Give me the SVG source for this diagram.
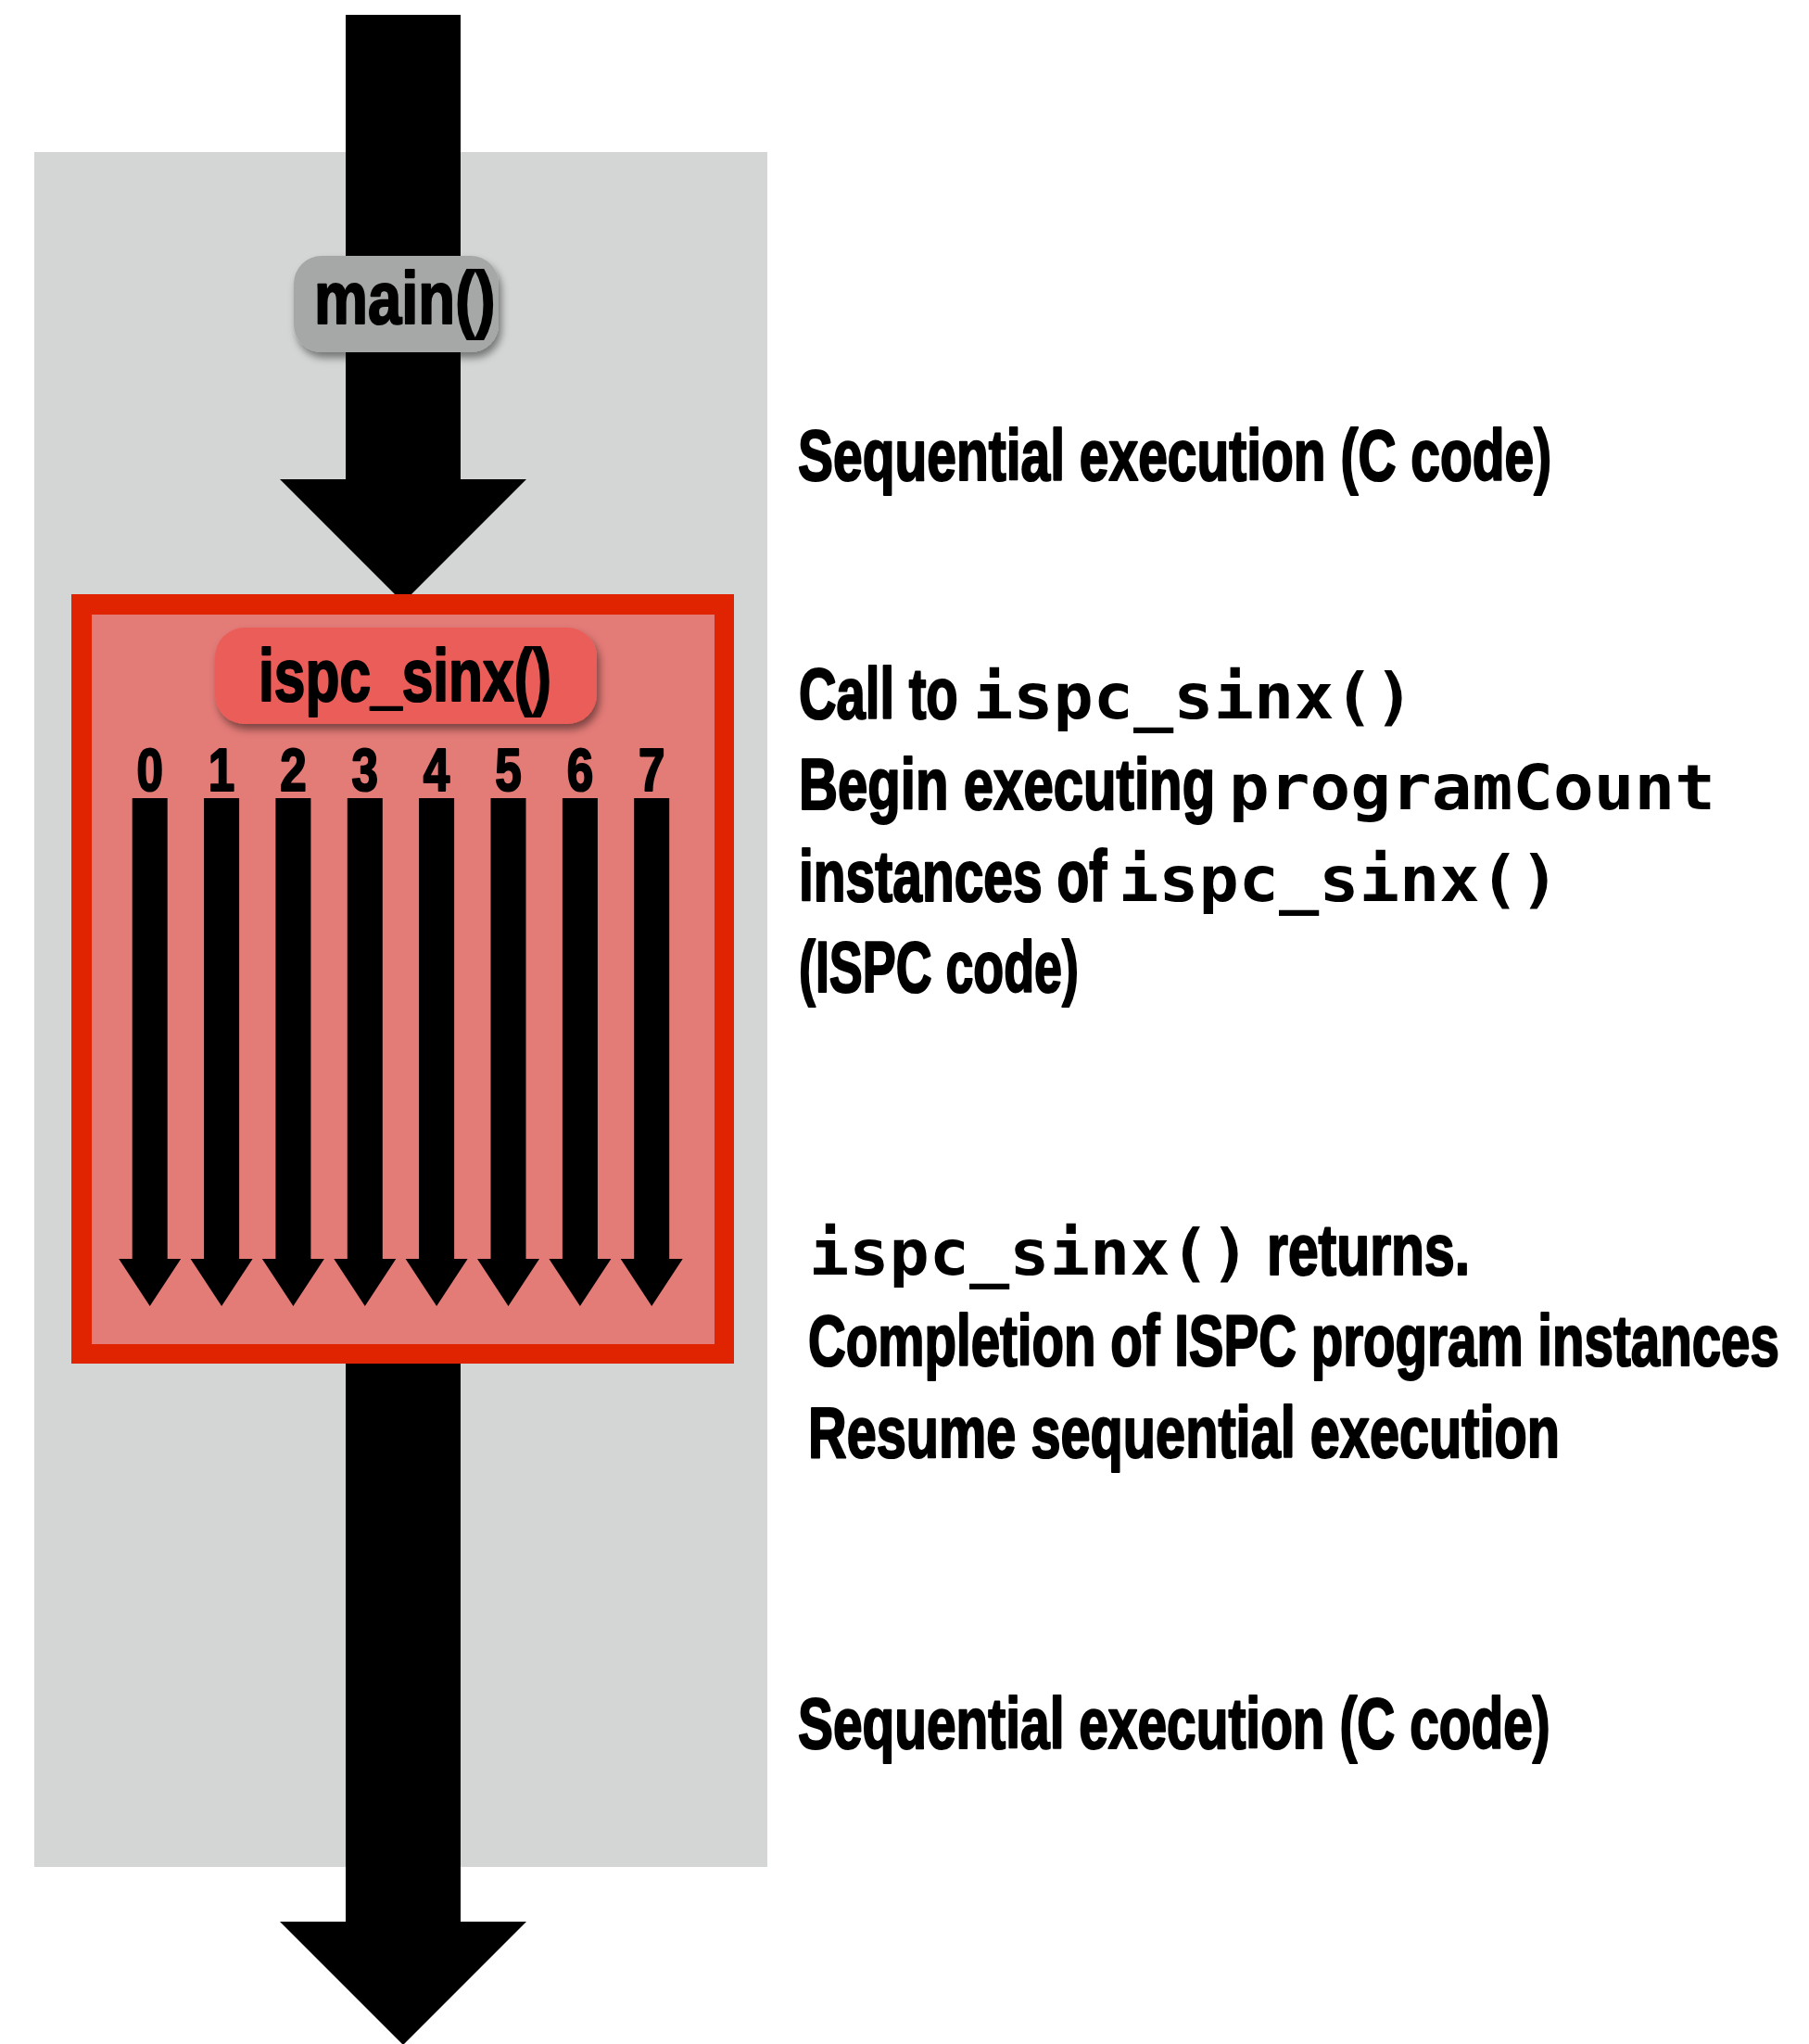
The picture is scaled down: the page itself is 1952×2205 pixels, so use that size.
<svg xmlns="http://www.w3.org/2000/svg" xmlns:xlink="http://www.w3.org/1999/xlink" width="1952" height="2205" viewBox="0 0 1952 2205">
  <style>
    .sans { font-family: "Liberation Sans", Arial, sans-serif; font-weight: bold; fill: #000; stroke: #000; stroke-width: 2.2px; stroke-linejoin: round; }
    .mono { font-family: "DejaVu Sans Mono", "Liberation Mono", monospace; font-weight: bold; fill: #000; }
    .note { font-size: 77px; }
    .code { font-size: 68px; }
    .lane-num { font-size: 64px; text-anchor: middle; }
    .label { font-size: 80px; }
  </style>
  <defs>
    <filter id="shadow" x="-20%" y="-30%" width="140%" height="170%">
      <feDropShadow dx="3" dy="6" stdDeviation="4" flood-color="#000" flood-opacity="0.45"/>
    </filter>
    <!-- one program-instance arrow, drawn from its top centre -->
    <polygon id="lane" points="-19,0 19,0 19,497 33.5,497 0,548 -33.5,497 -19,497" fill="#000"/>
  </defs>

  <rect width="1952" height="2205" fill="#fff"/>

  <!-- host region -->
  <g id="host">
    <rect x="37" y="164" width="791" height="1850" fill="#d4d6d5"/>
  </g>

  <!-- sequential control flow -->
  <g id="connectors">
    <polygon id="flow-in" points="373,16 497,16 497,517 568,517 435,650 302,517 373,517" fill="#000"/>
    <polygon id="flow-out" points="373,1460 497,1460 497,2073 568,2073 435,2206 302,2073 373,2073" fill="#000"/>
  </g>

  <!-- main() label -->
  <g id="main">
    <rect x="317" y="276" width="221" height="104" rx="30" fill="#a5a8a7" filter="url(#shadow)"/>
    <text class="sans label" transform="translate(339,349) scale(0.77,1)" textLength="254" lengthAdjust="spacingAndGlyphs">main()</text>
  </g>

  <!-- ISPC gang -->
  <g id="ispc-gang">
    <rect x="77" y="641" width="715" height="830" fill="#e02300"/>
    <rect x="99" y="663" width="672" height="787" fill="#e37b77"/>
    <g id="ispc-label">
      <rect x="232" y="677" width="412" height="104" rx="32" fill="#eb5d58" filter="url(#shadow)"/>
      <text class="sans label" transform="translate(279,756) scale(0.756,1)" textLength="418" lengthAdjust="spacingAndGlyphs">ispc_sinx()</text>
    </g>
    <g id="lane-numbers" class="sans lane-num">
      <text transform="translate(161.7,853) scale(0.8,1)">0</text>
      <text transform="translate(239.1,853) scale(0.8,1)">1</text>
      <text transform="translate(316.4,853) scale(0.8,1)">2</text>
      <text transform="translate(393.8,853) scale(0.8,1)">3</text>
      <text transform="translate(471.1,853) scale(0.8,1)">4</text>
      <text transform="translate(548.5,853) scale(0.8,1)">5</text>
      <text transform="translate(625.9,853) scale(0.8,1)">6</text>
      <text transform="translate(703.2,853) scale(0.8,1)">7</text>
    </g>
    <g id="lanes">
      <use href="#lane" x="161.7" y="861"/>
      <use href="#lane" x="239.1" y="861"/>
      <use href="#lane" x="316.4" y="861"/>
      <use href="#lane" x="393.8" y="861"/>
      <use href="#lane" x="471.1" y="861"/>
      <use href="#lane" x="548.5" y="861"/>
      <use href="#lane" x="625.9" y="861"/>
      <use href="#lane" x="703.2" y="861"/>
    </g>
  </g>

  <!-- annotations (condensed by a horizontal scale of 0.74) -->
  <g id="note-seq-1">
    <text class="sans note" transform="translate(861,518) scale(0.74,1)" textLength="1099" lengthAdjust="spacingAndGlyphs">Sequential execution (C code)</text>
  </g>
  <g id="note-call">
    <text class="sans note" transform="translate(862,775) scale(0.74,1)" textLength="232" lengthAdjust="spacingAndGlyphs">Call to</text>
    <text class="mono code" x="1050" y="775" textLength="476" lengthAdjust="spacingAndGlyphs">ispc_sinx()</text>
    <text class="sans note" transform="translate(862,873) scale(0.74,1)" textLength="607" lengthAdjust="spacingAndGlyphs">Begin executing</text>
    <text class="mono code" x="1326" y="873" textLength="525" lengthAdjust="spacingAndGlyphs">programCount</text>
    <text class="sans note" transform="translate(862,972) scale(0.74,1)" textLength="449" lengthAdjust="spacingAndGlyphs">instances of</text>
    <text class="mono code" x="1207" y="972" textLength="476" lengthAdjust="spacingAndGlyphs">ispc_sinx()</text>
    <text class="sans note" transform="translate(862,1070) scale(0.74,1)" textLength="408" lengthAdjust="spacingAndGlyphs">(ISPC code)</text>
  </g>
  <g id="note-return">
    <text class="mono code" x="873" y="1375" textLength="476" lengthAdjust="spacingAndGlyphs">ispc_sinx()</text>
    <text class="sans note" transform="translate(1367,1375) scale(0.74,1)" textLength="296" lengthAdjust="spacingAndGlyphs">returns.</text>
    <text class="sans note" transform="translate(872,1473) scale(0.74,1)" textLength="1416" lengthAdjust="spacingAndGlyphs">Completion of ISPC program instances</text>
    <text class="sans note" transform="translate(872,1572) scale(0.74,1)" textLength="1096" lengthAdjust="spacingAndGlyphs">Resume sequential execution</text>
  </g>
  <g id="note-seq-2">
    <text class="sans note" transform="translate(861,1886) scale(0.74,1)" textLength="1097" lengthAdjust="spacingAndGlyphs">Sequential execution (C code)</text>
  </g>
</svg>
